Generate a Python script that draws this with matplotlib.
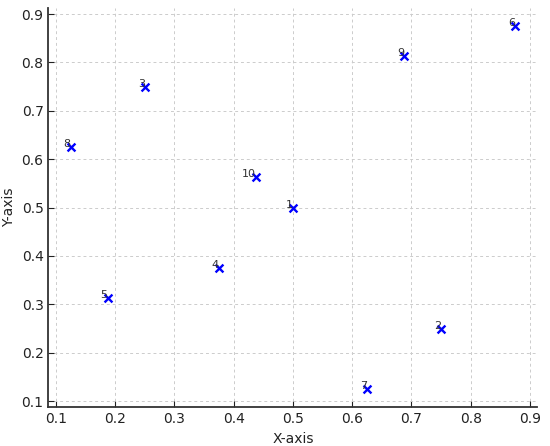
import numpy as np
import matplotlib
matplotlib.use('Agg')
import matplotlib.pyplot as plt

# points and their labels
labels = [1, 2, 3, 4, 5, 6, 7, 8, 9, 10]
x_vals = [0.5, 0.75, 0.25, 0.375, 0.1875, 0.875, 0.625, 0.125, 0.6875, 0.4375]
y_vals = [0.5, 0.25, 0.75, 0.375, 0.3125, 0.875, 0.125, 0.625, 0.8125, 0.5625]

fig, ax = plt.subplots(figsize=(5.5, 4.46), dpi=100)
fig.subplots_adjust(left=0.088, right=0.977, top=0.982, bottom=0.087)

ax.scatter(x_vals, y_vals, marker='x', color='blue', s=32, linewidths=1.7, zorder=3)
for lab, xv, yv in zip(labels, x_vals, y_vals):
    ax.text(xv, yv, str(lab), fontsize=8, color='#333333', ha='right', va='baseline', zorder=4)

ax.set_xlabel('X-axis', fontsize=10, color='#222222')
ax.set_ylabel('Y-axis', fontsize=10, color='#222222')

ax.grid(True, linestyle=(0, (3, 3)), color='#cccccc', linewidth=0.7)
ax.set_axisbelow(True)
for s in ['top', 'right']:
    ax.spines[s].set_visible(False)
for s in ['left', 'bottom']:
    ax.spines[s].set_color('#333333')
    ax.spines[s].set_linewidth(1.3)
ax.tick_params(direction='in', length=4, labelsize=10, colors='#222222')

plt.savefig('out.png', dpi=100)
